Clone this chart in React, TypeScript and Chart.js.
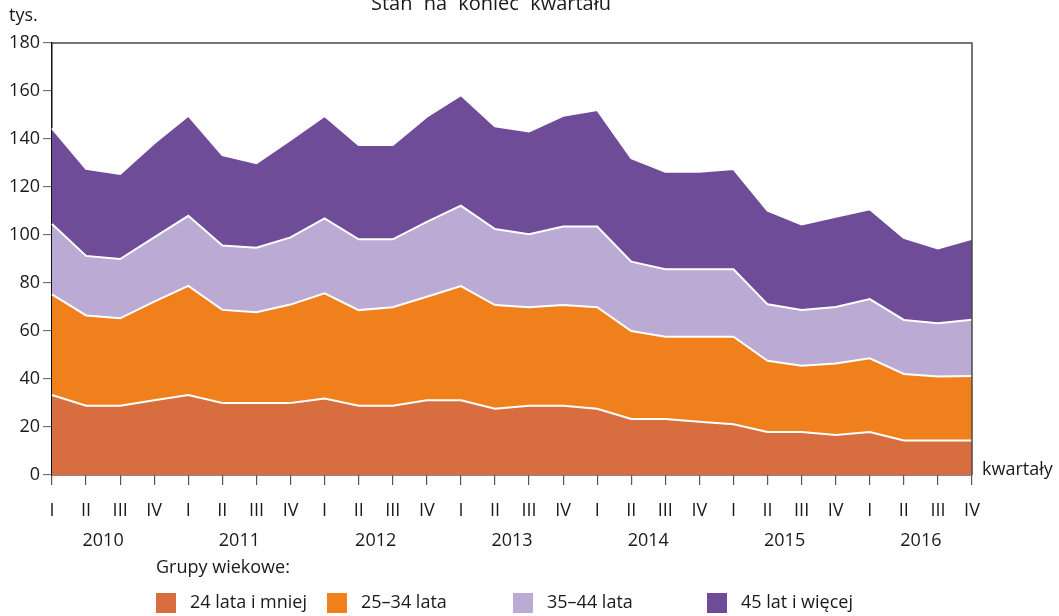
import React, { useEffect, useRef } from 'react';
import { Chart, registerables } from 'chart.js';

Chart.register(...registerables);

const quarters = ['I','II','III','IV','I','II','III','IV','I','II','III','IV','I','II','III','IV','I','II','III','IV','I','II','III','IV','I','II','III','IV'];
const years = ['2010', '2011', '2012', '2013', '2014', '2015', '2016'];

const age24 = [33.3,28.9,28.9,31.1,33.3,30.0,30.0,30.0,31.9,28.9,28.9,31.1,31.1,27.6,28.9,28.9,27.6,23.3,23.3,22.2,21.1,17.9,17.9,16.7,17.9,14.4,14.4,14.4];
const age25_34 = [42.0,37.6,36.4,41.1,45.5,38.8,37.8,41.0,43.8,39.8,41.0,43.2,47.6,43.2,41.0,41.9,42.3,36.7,34.3,35.4,36.5,29.7,27.6,29.8,30.7,27.7,26.6,26.9];
const age35_44 = [29.3,24.8,24.7,26.8,29.2,26.8,26.9,28.0,31.2,29.5,28.3,31.2,33.5,31.7,30.4,32.7,33.6,28.9,28.1,28.1,28.1,23.5,23.3,23.5,24.7,22.5,22.2,23.4];
const age45plus = [39.8,36.3,35.4,39.2,41.7,37.7,35.2,40.6,42.7,39.3,39.3,43.8,46.1,42.8,42.8,46.2,48.6,43.1,40.7,40.7,41.8,39.0,35.6,37.6,37.4,34.2,31.2,33.7];

const seriesLabels = ['24 lata i mniej', '25–34 lata', '35–44 lata', '45 lat i więcej'];
const seriesColors = ['#D86E3F', '#EF801B', '#BBAAD3', '#6E4C97'];

const FONT = '"Open Sans", sans-serif';

const extras = {
  id: 'extras',
  afterDraw(chart: any) {
    const ctx = chart.ctx;
    const a = chart.chartArea;
    const xs = chart.scales.x;
    ctx.save();
    // frame top & right
    ctx.strokeStyle = '#4a4a4a';
    ctx.lineWidth = 1.5;
    ctx.beginPath();
    ctx.moveTo(a.left, a.top);
    ctx.lineTo(a.right, a.top);
    ctx.lineTo(a.right, a.bottom);
    ctx.stroke();

    ctx.fillStyle = '#1a1a1a';
    // title (cut at top)
    ctx.font = `20px ${FONT}`;
    ctx.textAlign = 'center';
    ctx.textBaseline = 'alphabetic';
    try { (ctx as any).wordSpacing = '6px'; } catch (e) {}
    ctx.fillText('Stan na koniec kwartału', 491, 10);
    try { (ctx as any).wordSpacing = '0px'; } catch (e) {}

    // unit
    ctx.font = `18px ${FONT}`;
    ctx.textAlign = 'left';
    ctx.fillText('tys.', 9, 21);

    // x axis title
    ctx.textBaseline = 'middle';
    ctx.fillText('kwartały', 982, 470);

    // years
    ctx.textAlign = 'center';
    years.forEach((y, i) => {
      const x0 = xs.getPixelForValue(i * 4);
      const x1 = xs.getPixelForValue(i * 4 + 3);
      ctx.fillText(y, (x0 + x1) / 2, 541);
    });

    // legend
    ctx.textAlign = 'left';
    ctx.fillText('Grupy wiekowe:', 156, 568);
    const lx = [156, 327, 513, 707];
    seriesLabels.forEach((lab, i) => {
      ctx.fillStyle = seriesColors[i];
      ctx.fillRect(lx[i], 593, 20, 20);
      ctx.fillStyle = '#1a1a1a';
      ctx.fillText(lab, lx[i] + 34, 603);
    });
    ctx.restore();
  },
};

export default function App() {
  const ref = useRef<HTMLCanvasElement>(null);
  useEffect(() => {
    document.body.style.margin = '0';
    const mk = (data: number[], i: number) => ({
      label: seriesLabels[i],
      data,
      backgroundColor: seriesColors[i],
      borderColor: '#ffffff',
      borderWidth: 2,
      fill: i === 0 ? 'origin' : '-1',
      pointRadius: 0,
      tension: 0,
    });
    const chart = new Chart(ref.current!, {
      type: 'line',
      data: {
        labels: quarters,
        datasets: [mk(age24, 0), mk(age25_34, 1), mk(age35_44, 2), mk(age45plus, 3)],
      },
      options: {
        animation: false,
        responsive: false,
        maintainAspectRatio: false,
        layout: { padding: { left: 0, top: 43, right: 87, bottom: 0 } },
        plugins: {
          legend: { display: false },
          tooltip: { enabled: false },
          title: { display: false },
        },
        scales: {
          x: {
            offset: false,
            afterFit: (s: any) => { s.height = 141; },
            grid: {
              display: true,
              drawOnChartArea: false,
              drawTicks: true,
              tickLength: 10,
              color: '#555',
              lineWidth: 1.2,
            },
            border: { display: true, color: '#111', width: 1.5 },
            ticks: {
              autoSkip: false,
              maxRotation: 0,
              minRotation: 0,
              padding: 15,
              color: '#1a1a1a',
              font: { family: FONT, size: 18 },
            },
          },
          y: {
            stacked: true,
            min: 0,
            max: 180,
            afterFit: (s: any) => { s.width = 52; },
            grid: {
              display: true,
              drawOnChartArea: false,
              drawTicks: true,
              tickLength: 9,
              color: '#777',
              lineWidth: 1.2,
            },
            border: { display: true, color: '#111', width: 1.5 },
            ticks: {
              stepSize: 20,
              padding: 3,
              color: '#1a1a1a',
              font: { family: FONT, size: 18 },
            },
          },
        },
      },
      plugins: [extras],
    });
    return () => chart.destroy();
  }, []);
  return (
    <div style={{ width: 1059, height: 616 }}>
      <canvas ref={ref} width={1059} height={616} style={{ display: 'block' }} />
    </div>
  );
}
